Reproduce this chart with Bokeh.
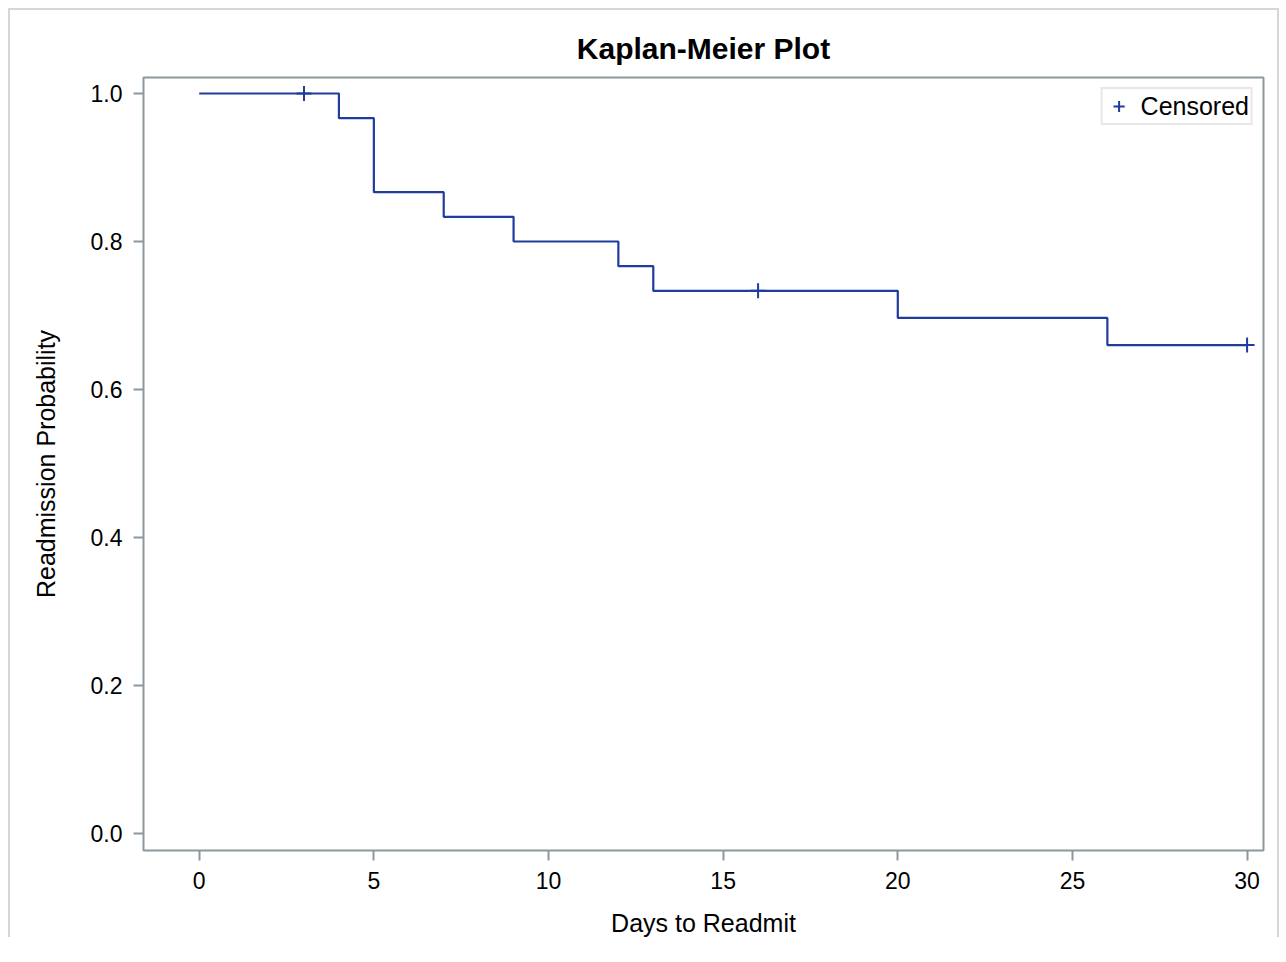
from bokeh.plotting import figure
from bokeh.models import Range1d, Legend, LegendItem, FixedTicker, CustomJSTickFormatter
from bokeh.embed import file_html
from bokeh.resources import INLINE

# Data
days = [0, 4, 5, 7, 9, 12, 13, 20, 26, 30]
surv = [1.0, 0.9667, 0.8667, 0.8333, 0.8, 0.7667, 0.7333, 0.6967, 0.66, 0.66]
cens_days = [3, 16, 30]
cens_surv = [1.0, 0.7333, 0.66]
x_ticks = [0, 5, 10, 15, 20, 25, 30]
y_ticks = [0.0, 0.2, 0.4, 0.6, 0.8, 1.0]

BLUE = "#1f3c9e"
GRAY = "#8e979b"
FONT = "Liberation Sans"

p = figure(width=1271, height=929, output_backend="svg", toolbar_location=None,
           x_range=Range1d(-1.595, 30.47), y_range=Range1d(-0.023, 1.0216),
           min_border_left=133, min_border_right=18, min_border_top=67,
           min_border_bottom=88)

p.title.text = "Kaplan-Meier Plot"
p.title.align = "center"
p.title.text_font = FONT
p.title.text_font_size = "30px"
p.title.text_font_style = "bold"
p.title.text_color = "black"
p.title.standoff = 26

p.step(days, surv, mode="after", line_color=BLUE, line_width=2.2)
r = p.scatter(cens_days, cens_surv, marker="cross", size=15, line_color=BLUE,
              line_width=2)

p.xgrid.visible = False
p.ygrid.visible = False
p.outline_line_color = GRAY
p.outline_line_width = 2

for ax in (p.xaxis[0], p.yaxis[0]):
    ax.axis_line_color = None
    ax.major_tick_line_color = GRAY
    ax.major_tick_line_width = 2
    ax.major_tick_out = 10
    ax.major_tick_in = 0
    ax.minor_tick_line_color = None
    ax.major_label_text_font = FONT
    ax.major_label_text_font_size = "23px"
    ax.major_label_text_color = "black"
    ax.axis_label_text_font = FONT
    ax.axis_label_text_font_size = "25px"
    ax.axis_label_text_font_style = "normal"
    ax.axis_label_text_color = "black"

p.xaxis.ticker = FixedTicker(ticks=x_ticks)
p.yaxis.ticker = FixedTicker(ticks=y_ticks)
p.yaxis.formatter = CustomJSTickFormatter(code="return tick.toFixed(1);")
p.xaxis.axis_label = "Days to Readmit"
p.yaxis.axis_label = "Readmission Probability"
p.xaxis.major_label_standoff = 11
p.yaxis.major_label_standoff = 11
p.xaxis.axis_label_standoff = 17
p.yaxis.axis_label_standoff = 28

legend = Legend(items=[LegendItem(label="Censored", renderers=[r])],
                location="top_right")
legend.label_text_font = FONT
legend.label_text_font_size = "25px"
legend.label_text_color = "black"
legend.border_line_color = "#cfcfcf"
legend.border_line_width = 2
legend.padding = 2
legend.spacing = 0
legend.margin = 10
legend.glyph_width = 28
legend.glyph_height = 30
legend.label_standoff = 8
legend.label_height = 30
p.add_layout(legend)

p.styles = {"margin-left": "8px", "margin-top": "8px",
            "border-left": "2px solid #d6d6d6", "border-top": "2px solid #d6d6d6",
            "border-right": "2px solid #d6d6d6"}

open("out.html", "w").write(file_html(p, INLINE))
